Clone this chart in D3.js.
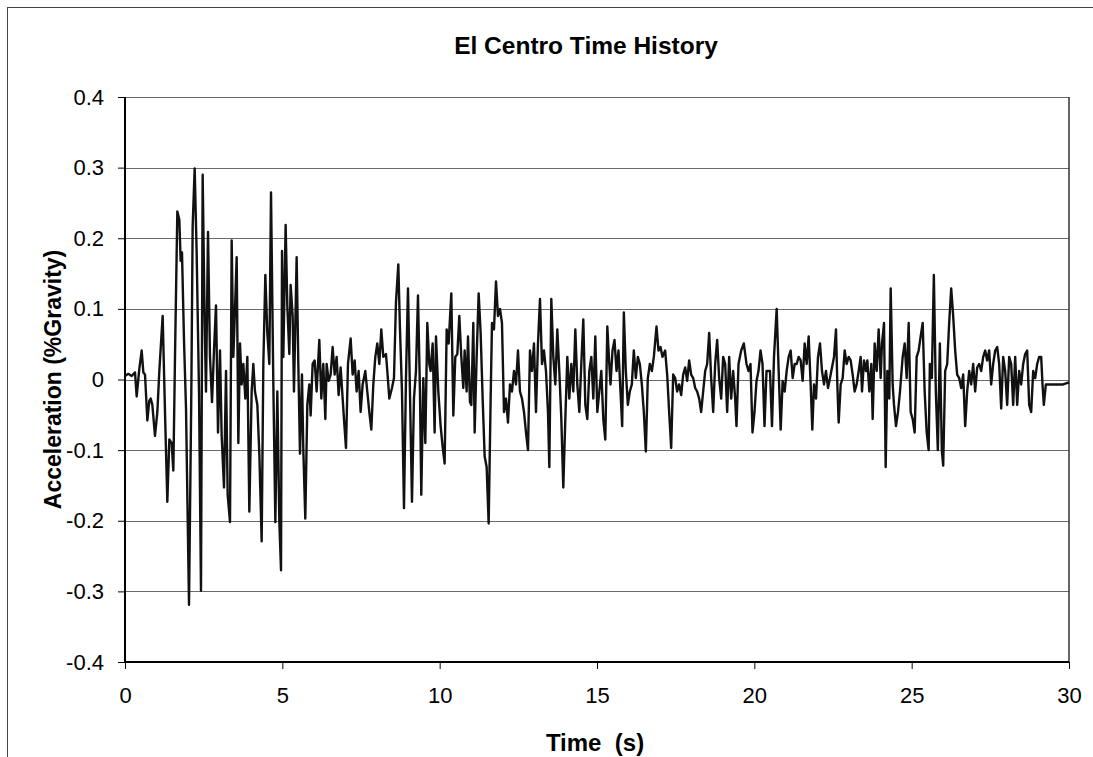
<!DOCTYPE html>
<meta charset="utf-8">

<style>
  body { margin: 0; background: #fff; }
  text { font-family: Arial, "Liberation Sans", sans-serif; fill: #000; }

  .line {
    fill: none;
    stroke: #111;
    stroke-width: 2.4px;
    stroke-linejoin: round;
  }

  .grid_line {
    stroke: #6a6a6a;
    stroke-width: 1;
    shape-rendering: crispEdges;
  }
</style>

<!-- Load d3.js -->
<script src="https://d3js.org/d3.v7.min.js"></script>

<div id="my_dataviz"></div>

<script>

// El Centro record: [time (s), acceleration (g)]
var quake0to5 = [[0,0.005],[0.106,0.008],[0.212,0.005],[0.318,0.01],[0.371,-0.024],[0.455,0.015],[0.53,0.041],[0.583,0.01],[0.636,0.007],[0.71,-0.058],[0.773,-0.03],[0.816,-0.027],[0.869,-0.036],[0.953,-0.08],[1.028,-0.046],[1.091,0.012],[1.197,0.09],[1.271,-0.046],[1.345,-0.173],[1.409,-0.085],[1.483,-0.09],[1.536,-0.129],[1.589,0.032],[1.663,0.238],[1.727,0.226],[1.769,0.168],[1.811,0.18],[1.875,0.056],[1.939,-0.041],[2.034,-0.319],[2.108,-0.017],[2.15,0.217],[2.214,0.299],[2.278,0.178],[2.352,-0.017],[2.415,-0.299],[2.468,0.29],[2.532,0.08],[2.574,-0.017],[2.638,0.209],[2.701,0.032],[2.765,-0.032],[2.828,0.041],[2.892,0.105],[2.956,-0.075],[3.019,0.041],[3.072,-0.08],[3.146,-0.153],[3.21,0.012],[3.263,-0.163],[3.337,-0.202],[3.39,0.197],[3.443,0.032],[3.496,0.1],[3.549,0.173],[3.602,-0.09],[3.655,0.051],[3.708,-0.007],[3.761,0.022],[3.824,-0.027],[3.888,0.032],[3.951,-0.187],[4.025,-0.017],[4.078,0.022],[4.131,-0.017],[4.206,-0.036],[4.269,-0.105],[4.343,-0.229],[4.396,0.022],[4.46,0.148],[4.523,0.066],[4.587,0.022],[4.64,0.265],[4.714,-0.007],[4.778,-0.202],[4.841,-0.017],[4.905,-0.202],[4.958,-0.27]];

var quake5to10 = [[4.99,0.182],[5.031,0.032],[5.105,0.219],[5.158,0.105],[5.222,0.036],[5.264,0.134],[5.328,0.09],[5.37,-0.017],[5.455,0.173],[5.508,0.022],[5.561,-0.105],[5.624,0.007],[5.667,-0.1],[5.73,-0.197],[5.794,-0.036],[5.857,-0.007],[5.9,-0.051],[5.963,0.022],[6.027,0.027],[6.09,-0.017],[6.175,0.056],[6.239,-0.027],[6.302,0.022],[6.366,-0.056],[6.408,0.022],[6.472,-0.002],[6.535,0.007],[6.599,0.046],[6.662,0.007],[6.726,0.032],[6.789,-0.022],[6.853,0.017],[6.917,-0.027],[6.959,-0.056],[7.023,-0.097],[7.086,0.022],[7.171,0.058],[7.234,0.007],[7.298,0.027],[7.361,-0.017],[7.425,0.012],[7.488,-0.046],[7.552,-0.007],[7.637,0.012],[7.7,-0.017],[7.764,-0.046],[7.828,-0.071],[7.891,-0.007],[7.955,0.032],[8.018,0.051],[8.082,0.022],[8.145,0.071],[8.209,0.032],[8.294,0.036],[8.336,0.012],[8.4,-0.027],[8.484,-0.012],[8.548,0.002],[8.611,0.109],[8.686,0.163],[8.739,0.071],[8.802,-0.017],[8.866,-0.182],[8.929,0.002],[8.993,0.129],[9.056,-0.017],[9.12,-0.173],[9.183,-0.027],[9.247,0.012],[9.311,0.119],[9.374,-0.017],[9.416,-0.163],[9.48,0.002],[9.544,-0.09],[9.607,0.08],[9.671,0.022],[9.713,0.012],[9.777,0.051],[9.84,-0.075],[9.883,0.061],[9.957,-0.017],[10.031,-0.066],[10.094,-0.095]];

var quake10to15 = [[10.158,-0.119],[10.222,0.071],[10.285,0.051],[10.37,0.122],[10.434,-0.051],[10.497,0.032],[10.561,0.036],[10.624,0.09],[10.688,0.032],[10.752,-0.012],[10.794,0.041],[10.857,-0.017],[10.9,0.061],[10.963,-0.032],[11.006,-0.036],[11.069,0.08],[11.112,-0.075],[11.175,0.032],[11.239,0.122],[11.302,0.066],[11.366,-0.027],[11.43,-0.109],[11.493,-0.124],[11.557,-0.204],[11.62,-0.027],[11.663,0.08],[11.726,0.071],[11.79,0.139],[11.853,0.09],[11.917,0.1],[11.98,0.08],[12.044,-0.046],[12.107,-0.027],[12.171,-0.061],[12.235,-0.007],[12.298,-0.017],[12.362,0.012],[12.425,-0.007],[12.489,0.041],[12.552,-0.017],[12.616,-0.027],[12.68,-0.046],[12.743,-0.075],[12.807,-0.1],[12.87,0.041],[12.934,0.012],[12.997,0.051],[13.061,-0.046],[13.124,0.051],[13.188,0.114],[13.252,0.022],[13.315,0.041],[13.379,0.012],[13.442,-0.046],[13.485,-0.124],[13.548,0.114],[13.612,0.032],[13.675,-0.007],[13.739,0.071],[13.802,0.012],[13.866,-0.056],[13.929,-0.153],[13.993,-0.056],[14.057,0.032],[14.12,-0.027],[14.184,0.022],[14.247,-0.017],[14.311,0.071],[14.374,-0.007],[14.438,-0.046],[14.501,0.022],[14.565,0.085],[14.629,-0.036],[14.692,-0.056],[14.756,0.012],[14.819,0.032],[14.883,-0.027],[14.946,0.061],[15.01,-0.046],[15.073,-0.017],[15.137,0.012],[15.2,-0.056],[15.264,-0.085],[15.328,0.075],[15.391,0.022]];

var quake15to20 = [[15.429,-0.007],[15.493,0.041],[15.556,0.056],[15.62,0.012],[15.683,0.041],[15.747,-0.017],[15.8,-0.066],[15.853,0.095],[15.916,0.012],[15.98,-0.036],[16.043,-0.017],[16.107,-0.007],[16.17,0.041],[16.234,0.002],[16.298,0.032],[16.361,0.022],[16.425,-0.007],[16.488,-0.046],[16.552,-0.102],[16.615,0.002],[16.679,0.022],[16.743,0.012],[16.806,0.032],[16.891,0.075],[16.954,0.041],[17.018,0.046],[17.082,0.032],[17.166,0.041],[17.23,0.007],[17.293,-0.046],[17.357,-0.097],[17.421,0.007],[17.484,0.002],[17.548,-0.017],[17.611,-0.007],[17.675,-0.022],[17.738,0.007],[17.802,0.017],[17.865,-0.002],[17.929,0.027],[17.993,0.007],[18.056,0.002],[18.12,-0.012],[18.183,-0.017],[18.247,-0.027],[18.31,-0.046],[18.374,-0.017],[18.438,0.012],[18.501,0.022],[18.565,0.066],[18.628,0.002],[18.692,-0.046],[18.755,0.022],[18.819,0.056],[18.882,0.002],[18.946,-0.027],[19.01,0.032],[19.073,0.022],[19.137,-0.046],[19.2,0.032],[19.264,-0.027],[19.327,0.012],[19.391,-0.027],[19.433,-0.066],[19.497,0.022],[19.582,0.041],[19.666,0.051],[19.751,0.022],[19.815,0.012],[19.878,0.022],[19.942,-0.075],[20.005,-0.046],[20.069,-0.002],[20.132,0.012],[20.196,0.041],[20.26,0.022],[20.323,-0.066],[20.387,0.012]];

var quake20to25 = [[20.434,0.012],[20.498,0.012],[20.561,-0.066],[20.625,0.032],[20.71,0.1],[20.773,0.012],[20.837,-0.071],[20.9,-0.002],[20.964,-0.017],[21.027,0.012],[21.091,0.032],[21.155,0.041],[21.218,0.002],[21.282,0.022],[21.345,0.022],[21.409,0.032],[21.472,0.027],[21.536,-0.002],[21.599,0.051],[21.663,0.022],[21.727,0.061],[21.79,-0.007],[21.843,-0.071],[21.896,-0.007],[21.96,-0.027],[22.023,0.032],[22.087,0.051],[22.15,0.012],[22.214,-0.007],[22.277,0.012],[22.341,-0.012],[22.405,0.002],[22.468,0.017],[22.532,0.032],[22.595,0.071],[22.638,-0.007],[22.68,-0.061],[22.744,-0.007],[22.807,0.002],[22.871,0.041],[22.934,0.022],[22.998,0.032],[23.061,0.027],[23.125,0.007],[23.188,-0.017],[23.252,-0.007],[23.316,0.012],[23.379,0.032],[23.422,-0.017],[23.485,0.027],[23.549,0.012],[23.591,0.027],[23.655,-0.017],[23.718,0.022],[23.761,-0.056],[23.824,0.051],[23.888,0.012],[23.951,0.071],[24.015,0.002],[24.057,0.051],[24.121,0.08],[24.174,-0.124],[24.227,0.012],[24.29,-0.027],[24.333,0.129],[24.396,-0.007],[24.439,-0.036],[24.502,-0.066],[24.566,-0.046],[24.629,-0.017],[24.714,0.032],[24.778,0.051],[24.841,0.002],[24.905,0.08],[24.968,-0.046],[25.032,-0.056],[25.095,-0.075],[25.159,0.032],[25.222,0.041],[25.286,0.061],[25.35,0.08],[25.413,-0.017],[25.477,-0.075],[25.54,-0.1]];

var quake25to30 = [[25.578,0.022],[25.641,0.002],[25.705,0.148],[25.768,-0.017],[25.832,-0.1],[25.896,0.051],[25.959,-0.1],[26.002,-0.122],[26.065,0.012],[26.129,0.022],[26.192,0.08],[26.256,0.129],[26.319,0.09],[26.383,0.041],[26.446,0.007],[26.51,0.002],[26.574,-0.012],[26.637,0.007],[26.701,-0.066],[26.764,-0.017],[26.828,0.012],[26.891,-0.007],[26.955,0.022],[27.018,-0.017],[27.082,0.017],[27.146,0.022],[27.209,0.012],[27.273,0.032],[27.336,0.041],[27.4,0.027],[27.463,0.041],[27.527,-0.007],[27.59,0.022],[27.654,0.041],[27.718,0.046],[27.781,0.022],[27.845,-0.041],[27.908,0.032],[27.972,0.012],[28.035,-0.036],[28.099,0.032],[28.163,0.022],[28.226,-0.036],[28.29,0.032],[28.353,-0.036],[28.417,0.012],[28.48,-0.007],[28.544,0.022],[28.607,0.036],[28.671,0.041],[28.735,-0.036],[28.798,-0.046],[28.862,0.012],[28.925,0.002],[28.989,0.022],[29.052,0.032],[29.116,0.032],[29.158,-0.007],[29.2,-0.036],[29.264,-0.007],[29.497,-0.007],[29.815,-0.007],[29.995,-0.004]];

// ticks
var xTicks = [0, 5, 10, 15, 20, 25, 30];
var yTicks = [-0.4, -0.3, -0.2, -0.1, 0, 0.1, 0.2, 0.3, 0.4];
var yTickLabels = ["-0.4", "-0.3", "-0.2", "-0.1", "0", "0.1", "0.2", "0.3", "0.4"];

var chartTitle = "El Centro Time History";
var xTitle = "Time  (s)";
var yTitle = "Acceleration (%Gravity)";

// set the dimensions and margins of the graph
var margin = {top: 97, right: 24, bottom: 95, left: 125},
    width = 1093 - margin.left - margin.right,
    height = 757 - margin.top - margin.bottom;

var root = d3.select("#my_dataviz")
  .append("svg")
    .attr("width", 1093)
    .attr("height", 757);

// chart border (only left and top edges are inside the picture)
root.append("rect")
    .attr("x", 7.5)
    .attr("y", 7.5)
    .attr("width", 1200)
    .attr("height", 900)
    .style("fill", "none")
    .style("stroke", "#444")
    .style("stroke-width", 1);

var svg = root.append("g")
    .attr("transform", "translate(" + margin.left + "," + margin.top + ")");

var x = d3.scaleLinear()
  .domain([0, 30])
  .range([0, width]);

var y = d3.scaleLinear()
  .domain([-0.4, 0.4])
  .range([height, 0]);

// horizontal grid
svg.selectAll("gridLines")
  .data(yTicks)
  .enter()
  .append("line")
    .attr("class", "grid_line")
    .attr("x1", 0)
    .attr("x2", width)
    .attr("y1", function(d) { return Math.round(y(d)) + 0.5; })
    .attr("y2", function(d) { return Math.round(y(d)) + 0.5; });

// right border of the plot area
svg.append("line")
    .attr("x1", width).attr("x2", width)
    .attr("y1", 0).attr("y2", height)
    .style("stroke", "#333")
    .style("stroke-width", 1.5);

// Y axis
var yAxis = svg.append("g")
  .call(d3.axisLeft(y)
    .tickValues(yTicks)
    .tickSize(7)
    .tickPadding(14)
    .tickFormat(function(d, i) { return yTickLabels[i]; }));
yAxis.select(".domain").remove();
yAxis.selectAll("text").style("font-size", "22px").attr("font-family", null);
yAxis.selectAll(".tick line").attr("stroke", "#000");

// X axis
var xAxis = svg.append("g")
  .attr("transform", "translate(0," + height + ")")
  .call(d3.axisBottom(x)
    .tickValues(xTicks)
    .tickSize(7)
    .tickPadding(18)
    .tickFormat(d3.format("d")));
xAxis.select(".domain").remove();
xAxis.selectAll("text").style("font-size", "22px").attr("font-family", null);
xAxis.selectAll(".tick line").attr("stroke", "#000");

// left and bottom axis lines
svg.append("line")
    .attr("x1", 0).attr("x2", 0)
    .attr("y1", 0).attr("y2", height)
    .style("stroke", "#000")
    .style("stroke-width", 2);
svg.append("line")
    .attr("x1", 0).attr("x2", width)
    .attr("y1", height).attr("y2", height)
    .style("stroke", "#000")
    .style("stroke-width", 2);

// the record
var quake = [].concat(quake0to5, quake5to10, quake10to15, quake15to20, quake20to25, quake25to30);

var line = d3.line()
  .x(function(d) { return x(d[0]); })
  .y(function(d) { return y(d[1]); });

svg.append("path")
    .datum(quake)
    .attr("class", "line")
    .attr("d", line);

// titles
root.append("text")
    .attr("x", 586)
    .attr("y", 54)
    .attr("text-anchor", "middle")
    .style("font-size", "24.5px")
    .style("font-weight", "bold")
    .text(chartTitle);

root.append("text")
    .attr("x", 595)
    .attr("y", 751)
    .attr("text-anchor", "middle")
    .style("font-size", "24px")
    .style("font-weight", "bold")
    .style("white-space", "pre")
    .text(xTitle);

root.append("text")
    .attr("transform", "translate(61," + (margin.top + height / 2) + ") rotate(-90)")
    .attr("text-anchor", "middle")
    .style("font-size", "23px")
    .style("font-weight", "bold")
    .text(yTitle);

</script>
